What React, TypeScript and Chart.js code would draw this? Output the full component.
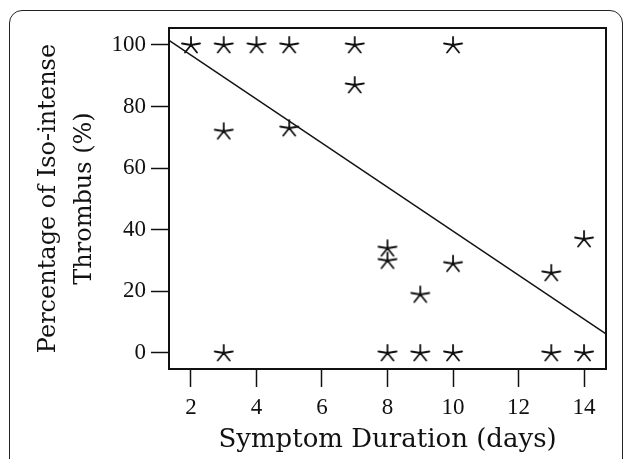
import { useEffect, useRef } from "react";
import { Chart, registerables } from "chart.js";

Chart.register(...registerables);

// Symptom duration (days) and percentage of iso-intense thrombus (%)
const durationDays = [2, 3, 4, 5, 7, 10, 7, 3, 5, 8, 8, 9, 10, 13, 14, 3, 8, 9, 10, 13, 14];
const isoIntensePct = [100, 100, 100, 100, 100, 100, 87, 72, 73, 34, 30, 19, 29, 26, 37, 0, 0, 0, 0, 0, 0];

// Fitted regression line endpoints (read at the plot edges)
const fitX = [1.33, 14.67];
const fitY = [101.5, 6.2];

const xTicks = [2, 4, 6, 8, 10, 12, 14];
const yTicks = [0, 20, 40, 60, 80, 100];

const xTitle = "Symptom Duration (days)";
const yTitle = ["Percentage of Iso-intense", "Thrombus (%)"];

const FONT = "'DejaVu Serif', serif";
const TICK_FONT = "'Liberation Serif', 'DejaVu Serif', serif";
const INK = "#111111";

function makeStar(): HTMLCanvasElement {
  const c = document.createElement("canvas");
  c.width = 22;
  c.height = 20;
  const g = c.getContext("2d")!;
  const cx = 11;
  const cy = 10;
  g.strokeStyle = INK;
  g.lineWidth = 1.8;
  g.lineCap = "round";
  const arms: [number, number][] = [
    [0, -8],
    [-9, -1.5],
    [9, -1.5],
    [-6, 7.5],
    [6, 7.5],
  ];
  g.beginPath();
  for (const [dx, dy] of arms) {
    g.moveTo(cx, cy);
    g.lineTo(cx + dx, cy + dy);
  }
  g.stroke();
  return c;
}

const boxPlugin = {
  id: "plotBox",
  afterDraw(chart: any) {
    const { ctx, chartArea } = chart;
    ctx.save();
    ctx.strokeStyle = INK;
    ctx.lineWidth = 2;
    ctx.strokeRect(chartArea.left, chartArea.top, chartArea.right - chartArea.left, chartArea.bottom - chartArea.top);
    ctx.restore();
  },
};

export default function App() {
  const ref = useRef<HTMLCanvasElement | null>(null);

  useEffect(() => {
    if (!ref.current) return;
    const star = makeStar();
    const chart = new Chart(ref.current, {
      type: "scatter",
      data: {
        datasets: [
          {
            type: "line",
            data: fitX.map((x, i) => ({ x, y: fitY[i] })),
            borderColor: INK,
            borderWidth: 1.5,
            pointRadius: 0,
            fill: false,
          } as any,
          {
            data: durationDays.map((x, i) => ({ x, y: isoIntensePct[i] })),
            pointStyle: star as any,
            pointRadius: 9,
            backgroundColor: INK,
            borderColor: INK,
          },
        ],
      },
      options: {
        animation: false,
        responsive: false,
        layout: { padding: { top: 28, right: 23, left: 0, bottom: 0 } },
        plugins: { legend: { display: false }, tooltip: { enabled: false } },
        scales: {
          x: {
            type: "linear",
            min: 1.33,
            max: 14.67,
            afterBuildTicks: (s: any) => {
              s.ticks = xTicks.map((v) => ({ value: v }));
            },
            afterFit: (s: any) => {
              s.height = 90;
            },
            grid: {
              drawOnChartArea: false,
              drawTicks: true,
              tickLength: 18,
              tickWidth: 1.5,
              tickColor: INK,
            },
            border: { display: true, color: INK, width: 2 },
            ticks: {
              color: INK,
              padding: 7,
              font: { family: TICK_FONT, size: 23 },
              maxRotation: 0,
            },
            title: {
              display: true,
              text: xTitle,
              color: INK,
              font: { family: FONT, size: 26 },
              padding: { top: 0, bottom: 3 },
            },
          },
          y: {
            type: "linear",
            min: -5.2,
            max: 105.5,
            afterBuildTicks: (s: any) => {
              s.ticks = yTicks.map((v) => ({ value: v }));
            },
            afterFit: (s: any) => {
              s.width = 169;
            },
            grid: {
              drawOnChartArea: false,
              drawTicks: true,
              tickLength: 18,
              tickWidth: 1.5,
              tickColor: INK,
            },
            border: { display: true, color: INK, width: 2 },
            ticks: {
              color: INK,
              padding: 5,
              font: { family: TICK_FONT, size: 23 },
            },
            title: {
              display: true,
              text: yTitle,
              color: INK,
              font: { family: FONT, size: 24, lineHeight: 1.5 },
              padding: { top: 31, bottom: 0 },
            },
          },
        },
      },
      plugins: [boxPlugin],
    });
    return () => chart.destroy();
  }, []);

  return (
    <div style={{ position: "absolute", left: 0, top: 0, width: 629, height: 459, overflow: "hidden", background: "#fff" }}>
      <div
        style={{
          position: "absolute",
          left: 9,
          top: 10,
          width: 614,
          height: 470,
          border: "1.5px solid #222",
          borderRadius: 13,
          boxSizing: "border-box",
        }}
      />
      <canvas ref={ref} width={629} height={459} style={{ position: "absolute", left: 0, top: 0, width: 629, height: 459 }} />
    </div>
  );
}
